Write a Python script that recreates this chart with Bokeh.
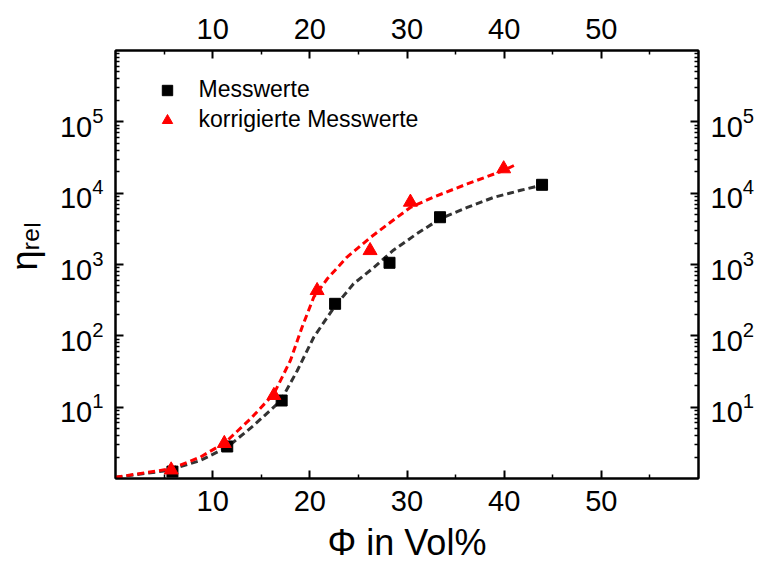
from bokeh.plotting import figure
from bokeh.models import (LinearAxis, LogAxis, FixedTicker, LogTickFormatter,
                          Legend, LegendItem, Range1d)
from bokeh.embed import file_html
from bokeh.resources import INLINE

# measured values (Messwerte) and corrected values (korrigierte Messwerte)
phi_mess = [5.86, 11.5, 17.1, 22.6, 28.2, 33.4, 43.9]
eta_mess = [1.25, 2.81, 12.4, 281, 1057, 4600, 13100]
phi_korr = [5.73, 11.2, 16.3, 20.75, 26.2, 30.35, 39.95]
eta_korr = [1.32, 3.1, 14.6, 432, 1570, 7480, 22000]

# dashed fit curves
fit_mess_phi = [0, 5.3, 8.7, 11.5, 14.2, 17.0, 18.7, 20.4, 22.5, 24.5, 26.6, 28.6, 31.0, 33.4, 36.2, 38.9, 41.7, 44.1]
fit_mess_eta = [1.04, 1.29, 1.78, 2.75, 5.5, 12.3, 32.4, 95.5, 251, 537, 912, 1585, 2692, 4365, 6310, 8710, 10965, 13183]
fit_korr_phi = [0, 5.73, 8.74, 11.3, 13.9, 16.3, 18.0, 19.2, 20.4, 21.8, 23.8, 26.2, 28.3, 30.35, 32.7, 36.2, 39.95, 41.0]
fit_korr_eta = [1.04, 1.37, 2.0, 3.2, 6.87, 15.4, 45.1, 132, 348, 631, 1259, 2371, 3917, 6310, 8790, 13490, 20800, 24430]

x_ticks = [10, 20, 30, 40, 50]
x_minor = [5, 15, 25, 35, 45, 55]
y_ticks = [1e1, 1e2, 1e3, 1e4, 1e5]
y_minor = [m * 10 ** n for n in range(0, 6) for m in range(2, 10)]

x_title = "Φ in Vol%"
y_title = "\u2003η\u1d63\u2091\u2097"

FONT = "Liberation Sans"

p = figure(width=757, height=570, x_range=Range1d(0, 60), y_range=Range1d(1, 1e6),
           y_axis_type="log", output_backend="svg", toolbar_location=None,
           min_border_left=115, min_border_right=59, min_border_top=50, min_border_bottom=92)
p.grid.visible = False
p.background_fill_color = "white"
p.border_fill_color = "white"
p.outline_line_color = "black"
p.outline_line_width = 2

p.add_layout(LinearAxis(), "above")
p.add_layout(LogAxis(), "right")

for ax in p.xaxis:
    ax.ticker = FixedTicker(ticks=x_ticks, minor_ticks=x_minor)
for ax in p.yaxis:
    ax.ticker = FixedTicker(ticks=y_ticks, minor_ticks=y_minor)
    ax.formatter = LogTickFormatter()

for ax in p.xaxis + p.yaxis:
    ax.axis_line_color = "black"
    ax.axis_line_width = 2
    ax.major_tick_in = 8
    ax.major_tick_out = 0
    ax.minor_tick_in = 4
    ax.minor_tick_out = 0
    ax.major_tick_line_width = 2
    ax.minor_tick_line_width = 1.5
    ax.major_tick_line_color = "black"
    ax.minor_tick_line_color = "black"
    ax.major_label_text_font = FONT
    ax.major_label_text_font_size = "29px"
    ax.major_label_text_color = "black"
    ax.major_label_standoff = 12
    ax.axis_label_text_font = FONT
    ax.axis_label_text_font_style = "normal"
    ax.axis_label_text_color = "black"

p.below[0].axis_label = x_title
p.below[0].axis_label_text_font_size = "36px"
p.below[0].axis_label_standoff = 8
p.left[0].axis_label = y_title
p.left[0].axis_label_text_font_size = "36px"
p.left[0].axis_label_standoff = 12

# dashed fit lines
p.line(fit_mess_phi, fit_mess_eta, line_color="#333333", line_width=3, line_dash="7 4")
p.line(fit_korr_phi, fit_korr_eta, line_color="#ff0000", line_width=3, line_dash="7 4")

r1 = p.scatter(phi_mess, eta_mess, marker="square", size=11, fill_color="black", line_color="black")
r2 = p.scatter(phi_korr, eta_korr, marker="triangle", size=14, fill_color="#ff0000", line_color="#ff0000")

legend = Legend(items=[LegendItem(label="Messwerte", renderers=[r1]),
                       LegendItem(label="korrigierte Messwerte", renderers=[r2])],
                location=(38.5, 345), padding=0, margin=0, spacing=3,
                glyph_width=26, glyph_height=26, label_height=26, label_standoff=19,
                label_text_font=FONT, label_text_font_size="23px", label_text_color="black",
                border_line_color=None, background_fill_alpha=0)
p.add_layout(legend)

open("out.html", "w").write(file_html(p, INLINE))
